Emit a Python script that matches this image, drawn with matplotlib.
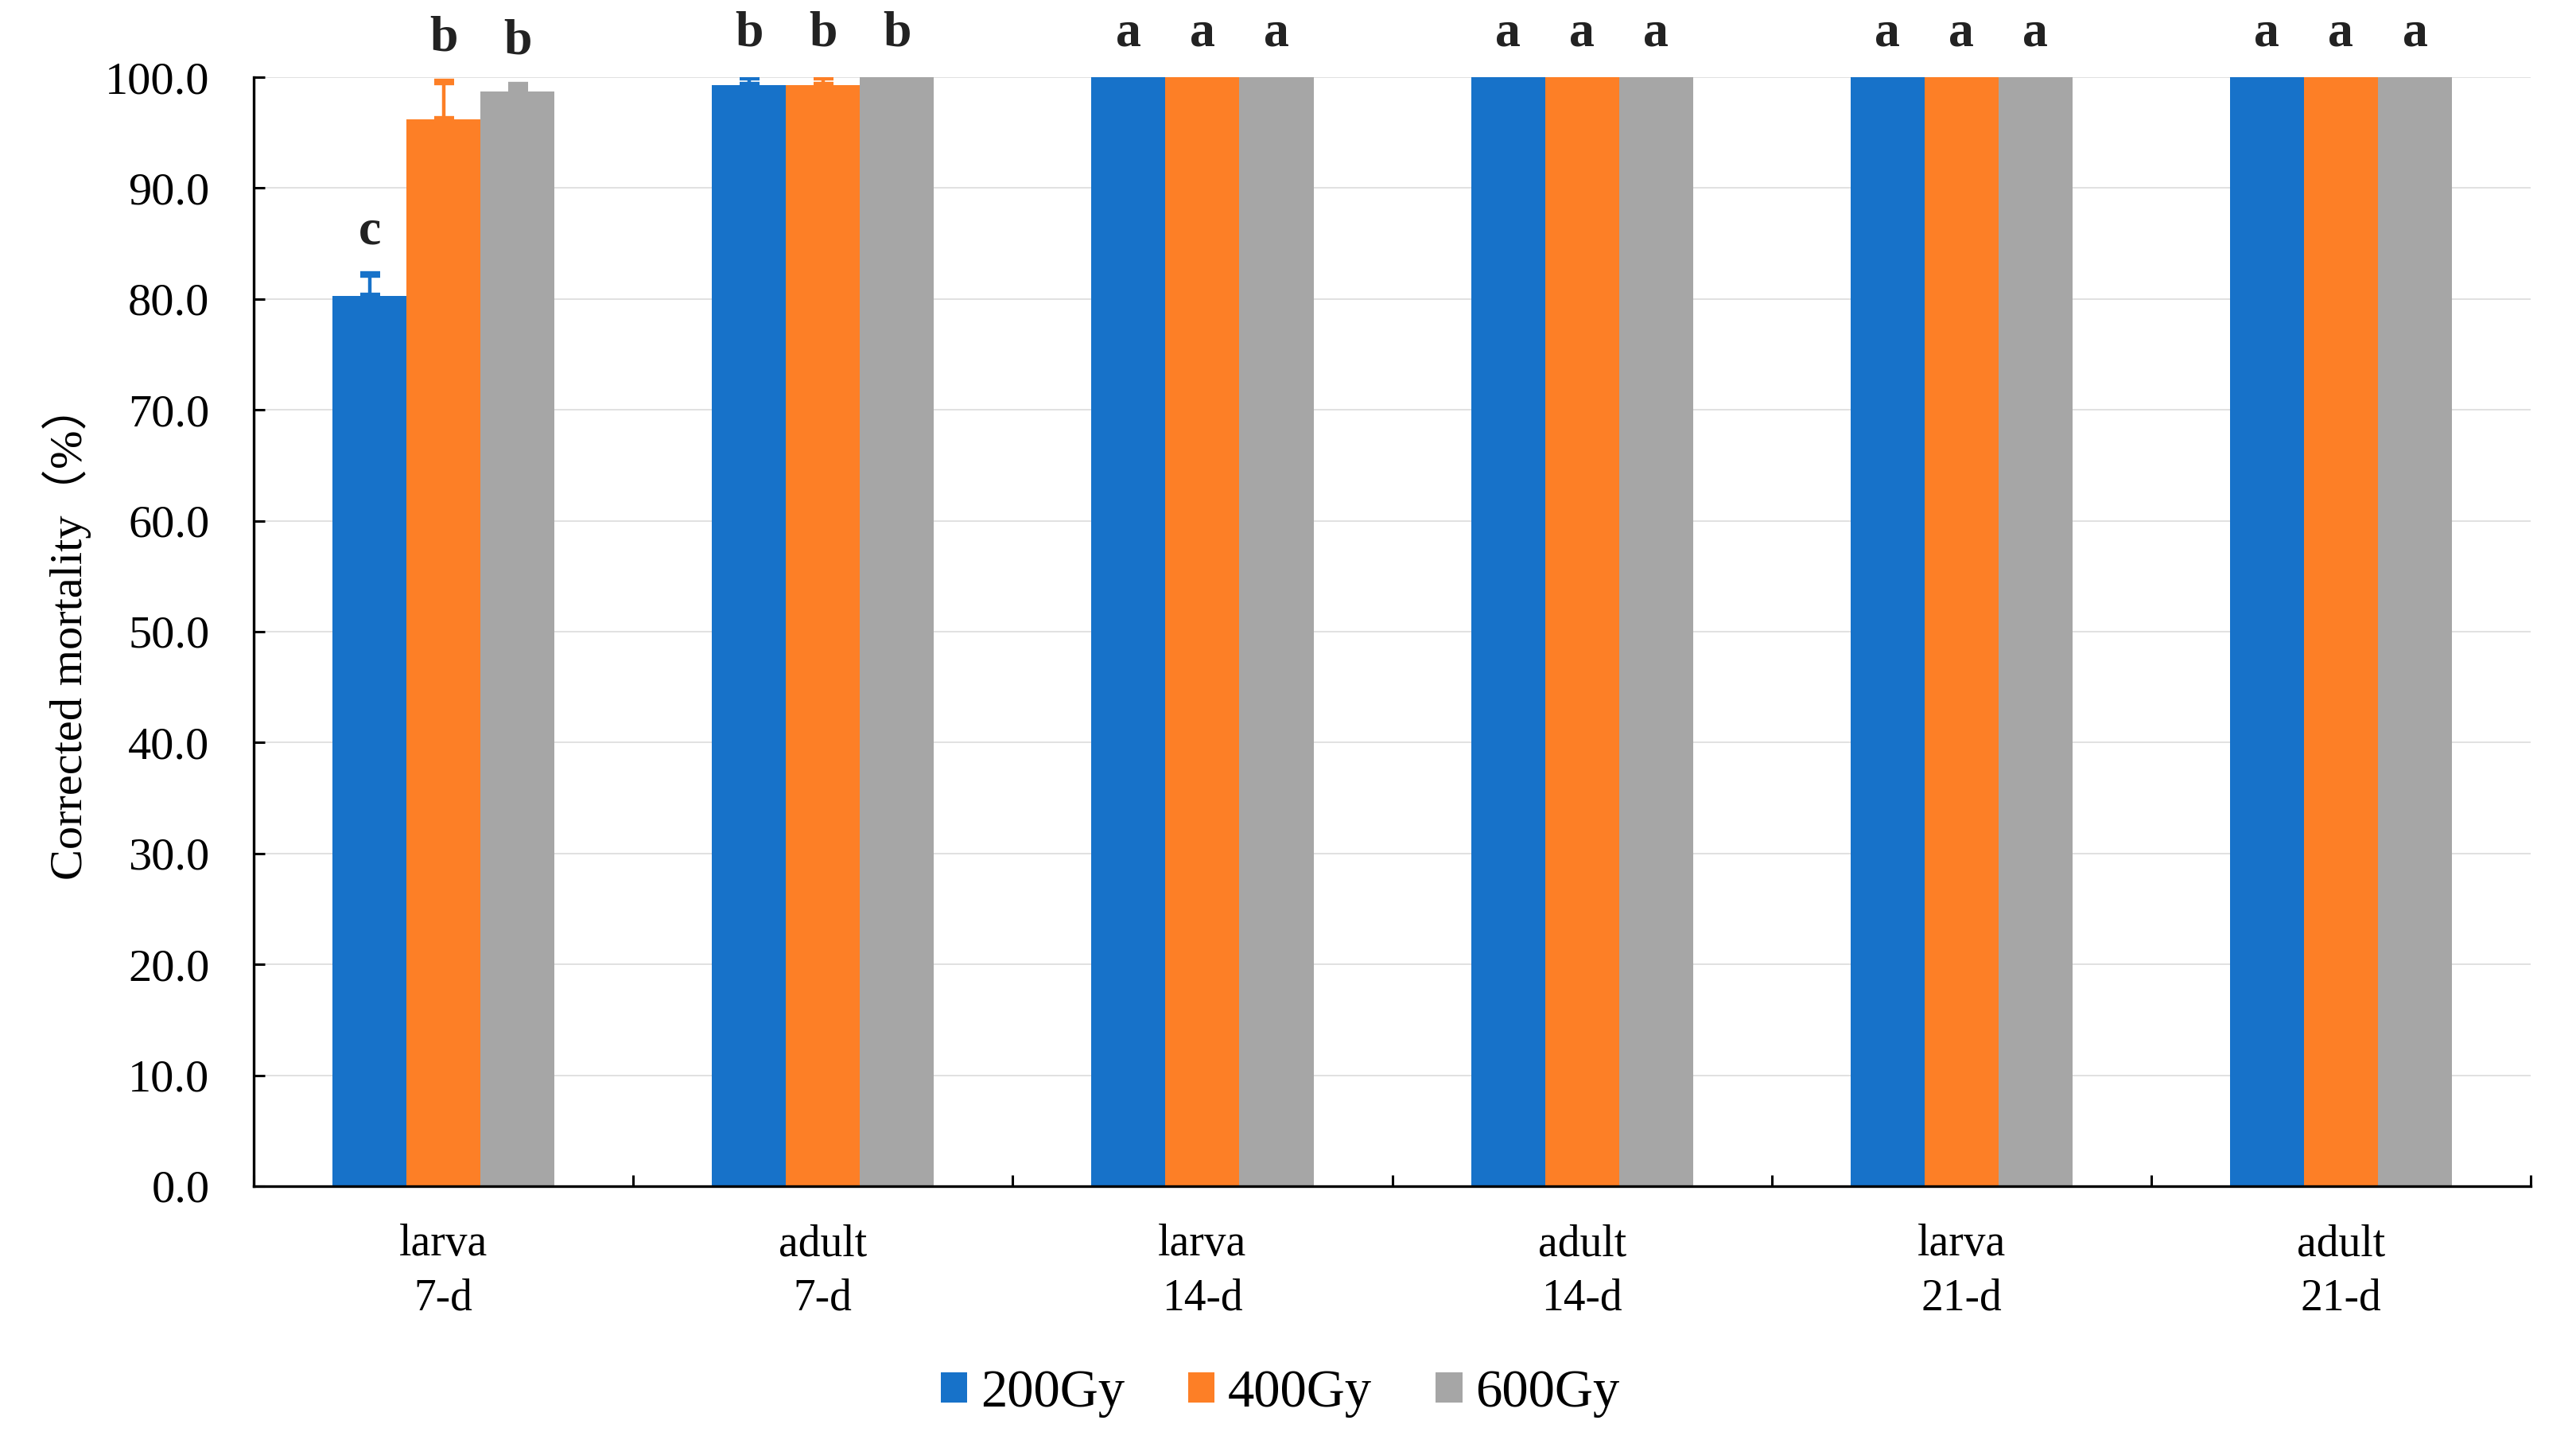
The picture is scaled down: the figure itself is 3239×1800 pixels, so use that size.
import matplotlib
matplotlib.use("Agg")
import matplotlib.pyplot as plt
import numpy as np

# data
categories = ["larva\n7-d", "adult\n7-d", "larva\n14-d", "adult\n14-d", "larva\n21-d", "adult\n21-d"]
series_names = ["200Gy", "400Gy", "600Gy"]
mort_200 = [80.3, 99.3, 100.0, 100.0, 100.0, 100.0]
mort_400 = [96.2, 99.3, 100.0, 100.0, 100.0, 100.0]
mort_600 = [98.7, 100.0, 100.0, 100.0, 100.0, 100.0]
err_200 = [1.9, 0.7, 0.0, 0.0, 0.0, 0.0]
err_400 = [3.4, 0.7, 0.0, 0.0, 0.0, 0.0]
err_600 = [0.6, 0.0, 0.0, 0.0, 0.0, 0.0]
letters_200 = ["c", "b", "a", "a", "a", "a"]
letters_400 = ["b", "b", "a", "a", "a", "a"]
letters_600 = ["b", "b", "a", "a", "a", "a"]

colors = ["#1772C9", "#FD7F26", "#A6A6A6"]
serif = ["Liberation Serif", "Noto Sans CJK SC"]

fig = plt.figure(figsize=(16.195, 9.0), dpi=200)
ax = fig.add_axes([0.0985, 0.1717, 0.8839, 0.7744])

x = np.arange(len(categories))
w = 0.195
all_vals = [mort_200, mort_400, mort_600]
all_errs = [err_200, err_400, err_600]
all_letters = [letters_200, letters_400, letters_600]

for i in range(3):
    pos = x + (i - 1) * w
    vals = np.array(all_vals[i])
    errs = np.array(all_errs[i])
    ax.bar(pos, vals, width=w, color=colors[i], label=series_names[i], zorder=2)
    ax.errorbar(pos, vals, yerr=[np.zeros_like(errs), errs], fmt="none",
                ecolor=colors[i], elinewidth=1.6, capsize=4.5, capthick=3.0, zorder=3)
    for p, v, e, t in zip(pos, vals, errs, all_letters[i]):
        ax.text(p, v + e + 1.8, t, ha="center", va="bottom", fontsize=23,
                fontweight="bold", family=serif, color="#222222", clip_on=False)

ax.set_xlim(-0.5, len(categories) - 0.5)
ax.set_ylim(0, 100)
ax.set_yticks(np.arange(0, 101, 10))
ax.set_yticklabels(["%.1f" % v for v in np.arange(0, 101, 10)], family=serif, fontsize=21)
ax.yaxis.grid(True, color="#dcdcdc", linewidth=0.6, zorder=0)
ax.set_axisbelow(True)

# boundary ticks (major, no labels) and category labels on minor ticks
ax.set_xticks(np.arange(-0.5, len(categories), 1.0))
ax.set_xticklabels([])
ax.set_xticks(x, minor=True)
ax.set_xticklabels(categories, minor=True, family=serif, fontsize=20, linespacing=1.4)
ax.tick_params(axis="x", which="major", direction="in", length=5, width=1.1)
ax.tick_params(axis="x", which="minor", length=0, pad=17)
ax.tick_params(axis="y", direction="in", length=5, width=1.1, pad=20)

for s in ["top", "right"]:
    ax.spines[s].set_visible(False)
for s in ["left", "bottom"]:
    ax.spines[s].set_linewidth(1.2)

ax.set_ylabel("Corrected mortality（%）", family=serif, fontsize=21, labelpad=6)

leg = fig.legend(loc="center", bbox_to_anchor=(0.497, 0.027), ncol=3, frameon=False,
                 prop={"family": serif, "size": 24}, handlelength=0.5, handleheight=0.5,
                 handletextpad=0.25, columnspacing=1.2)

fig.savefig("out.png", dpi=200)
